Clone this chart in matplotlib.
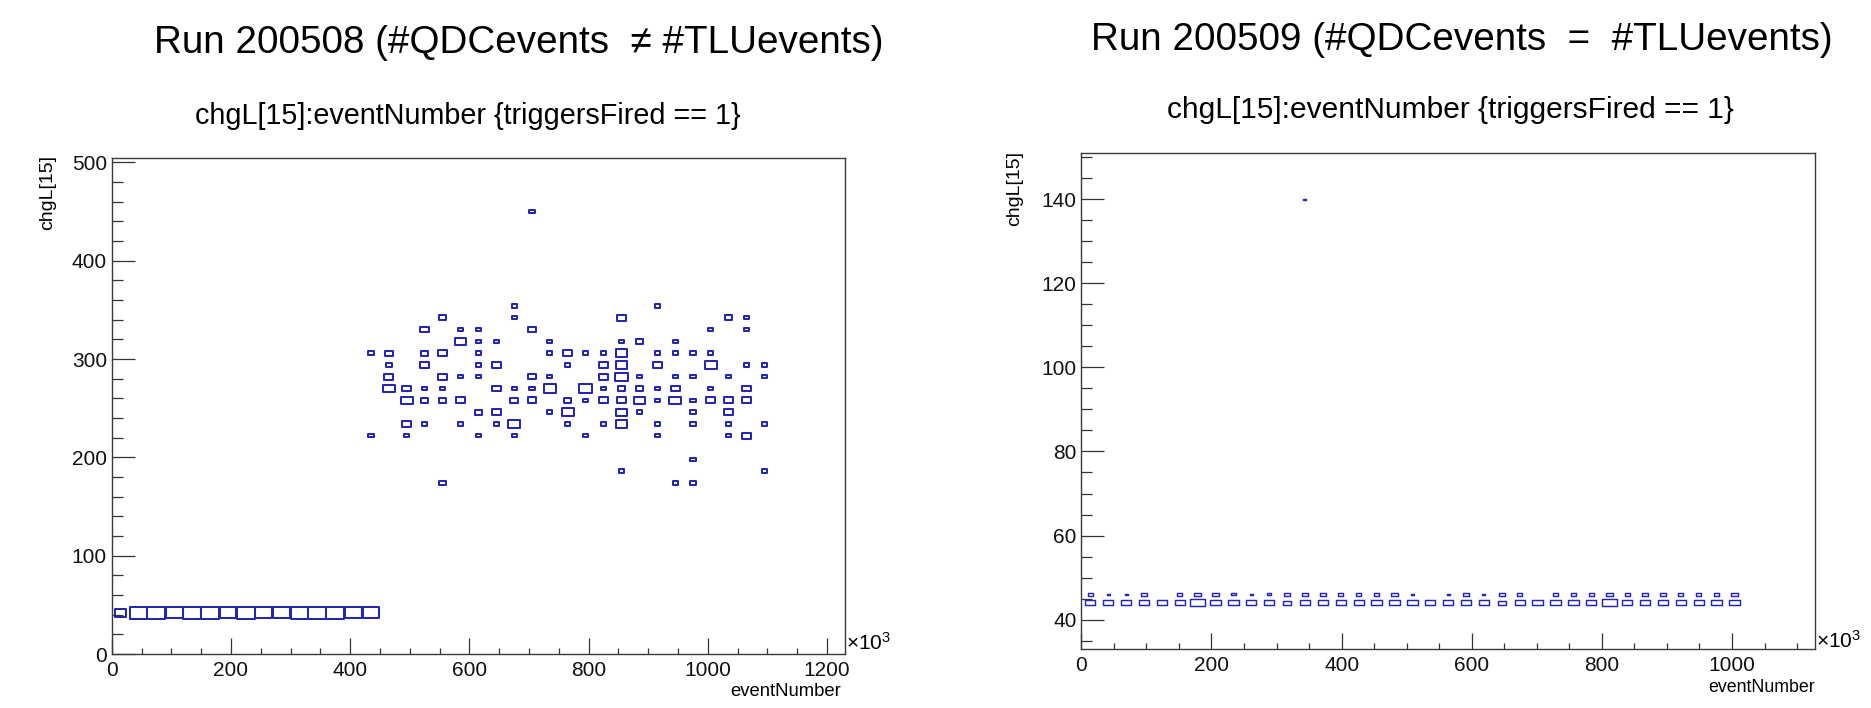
import numpy as np
import matplotlib
matplotlib.use("Agg")
import matplotlib.pyplot as plt
from matplotlib.patches import Rectangle
from matplotlib.collections import PatchCollection

plt.rcParams['font.family'] = ['Liberation Sans', 'DejaVu Sans']
plt.rcParams['mathtext.fontset'] = 'custom'
plt.rcParams['mathtext.rm'] = 'Liberation Sans'

# ---------------- data: Run 200508 (left) ----------------
# bin centres of eventNumber (x10^3), chgL[15] and entries per cell
left_event = [15, 45, 75, 105, 135, 165, 195, 225, 255, 285, 315, 345, 375, 405, 435,
              705,
              675, 915,
              555, 675, 855, 1035, 1065,
              525, 585, 615, 705, 1005, 1065,
              585, 615, 645, 735, 855, 885, 945,
              435, 465, 525, 555, 615, 735, 765, 795, 825, 855, 915, 945, 975, 1005,
              465, 525, 615, 645, 765, 825, 855, 915, 1005, 1065, 1095,
              465, 555, 585, 615, 705, 735, 825, 855, 885, 945, 975, 1035, 1095,
              465, 495, 525, 555, 645, 675, 705, 735, 795, 825, 855, 885, 915, 945, 1005, 1065,
              495, 525, 555, 585, 675, 705, 765, 795, 825, 855, 885, 915, 945, 975, 1005, 1035, 1065,
              615, 645, 735, 765, 855, 885, 975, 1035,
              495, 525, 585, 645, 675, 765, 825, 855, 915, 975, 1035, 1095,
              435, 495, 615, 675, 795, 915, 1035, 1065,
              975,
              855, 1095,
              555, 945, 975]
left_chg = [42] * 15 + \
           [450] + \
           [354] * 2 + \
           [342] * 5 + \
           [330] * 6 + \
           [318] * 7 + \
           [306] * 14 + \
           [294] * 11 + \
           [282] * 13 + \
           [270] * 16 + \
           [258] * 17 + \
           [246] * 8 + \
           [234] * 12 + \
           [222] * 8 + \
           [198] + \
           [186] * 2 + \
           [174] * 3
left_count = [5, 12, 12, 11, 12, 12, 10, 12, 11, 11, 12, 12, 12, 11, 10,
              1,
              1, 1,
              2, 1, 3, 2, 1,
              3, 1, 1, 2, 1, 1,
              5, 1, 1, 1, 1, 2, 1,
              1, 2, 2, 3, 1, 1, 3, 1, 1, 5, 1, 1, 1, 1,
              1, 3, 1, 3, 1, 3, 5, 3, 5, 1, 1,
              3, 3, 1, 1, 2, 1, 3, 6, 1, 1, 1, 1, 1,
              5, 3, 1, 1, 3, 1, 1, 6, 6, 1, 2, 2, 1, 3, 1, 3,
              5, 2, 2, 3, 2, 3, 2, 1, 3, 3, 5, 1, 5, 1, 3, 3, 3,
              2, 3, 1, 5, 4, 1, 1, 3,
              3, 1, 1, 1, 5, 1, 1, 5, 1, 1, 1, 1,
              1, 1, 1, 1, 1, 1, 1, 3,
              1,
              1, 1,
              2, 1, 1]

# ---------------- data: Run 200509 (right) ----------------
right_event = [13.75, 41.25, 68.75, 96.25, 123.75, 151.25, 178.75, 206.25, 233.75,
               261.25, 288.75, 316.25, 343.75, 371.25, 398.75, 426.25, 453.75,
               481.25, 508.75, 536.25, 563.75, 591.25, 618.75, 646.25, 673.75,
               701.25, 728.75, 756.25, 783.75, 811.25, 838.75, 866.25, 893.75,
               921.25, 948.75, 976.25, 1003.75]
right_count_44 = [12, 12, 12, 12, 12, 12, 24, 12, 12, 12, 12, 7, 12, 12, 12, 12, 12,
                  12, 12, 12, 12, 12, 12, 8, 12, 12, 12, 12, 12, 24, 12, 12, 12,
                  12, 12, 12, 12]
right_count_46 = [3, 1, 1, 5, 0, 3, 5, 5, 2, 1, 2, 5, 3, 5, 3, 3, 3,
                  5, 1, 0, 1, 3, 1, 5, 3, 0, 3, 3, 3, 5, 3, 3, 5,
                  3, 3, 3, 5]
right_outlier_event = [343.75]
right_outlier_chg = [140]
right_outlier_count = [1]

W, H = 1871, 708
fig = plt.figure(figsize=(W / 100, H / 100), dpi=100)
fig.patch.set_facecolor('white')

def ax_at(x0, y0, x1, y1):
    return fig.add_axes([x0 / W, 1 - y1 / H, (x1 - x0) / W, (y1 - y0) / H])

axL = ax_at(111.7, 157.9, 845.0, 654.1)
axR = ax_at(1081.3, 153.1, 1815.0, 649.0)

BOX = '#2626b4'

def draw_boxes(ax, xs, ys, ns, bw, bh, zmax, lw):
    patches = []
    for x, y, n in zip(xs, ys, ns):
        if n <= 0:
            continue
        r = np.sqrt(n / zmax)
        w, h = bw * r, bh * r
        patches.append(Rectangle((x - w / 2, y - h / 2), w, h))
    pc = PatchCollection(patches, facecolor='none', edgecolor=BOX, linewidth=lw)
    ax.add_collection(pc)

# left: 41 x bins of 30 on [0,1230], 42 y bins of 12 on [0,504]
draw_boxes(axL, left_event, left_chg, left_count, 30.0, 12.0, max(left_count), 1.45)
axL.set_xlim(0, 1230)
axL.set_ylim(0, 504.5)

# right: 41 x bins of 27.5 on [0,1127.5], 59 y bins of 2 on [33,151]
rx = right_event + right_event + right_outlier_event
ry = [44] * len(right_event) + [46] * len(right_event) + right_outlier_chg
rn = right_count_44 + right_count_46 + right_outlier_count
draw_boxes(axR, rx, ry, rn, 27.5, 2.0, 36, 1.05)
axR.set_xlim(0, 1127.5)
axR.set_ylim(33, 151)

def style(ax, xmaj, xmin, ymaj, ymin):
    ax.set_xticks(xmaj)
    ax.set_xticks(xmin, minor=True)
    ax.set_yticks(ymaj)
    ax.set_yticks(ymin, minor=True)
    ax.tick_params(axis='both', which='both', direction='in', colors='#333333',
                   width=0.9, labelcolor='#111111', labelsize=15,
                   top=False, right=False)
    ax.tick_params(axis='x', which='major', length=11.2, pad=5.0)
    ax.tick_params(axis='x', which='minor', length=4.5)
    ax.tick_params(axis='y', which='major', length=16.3, pad=3.4)
    ax.tick_params(axis='y', which='minor', length=7.9)
    for s in ax.spines.values():
        s.set_color('#3a3a3a')
        s.set_linewidth(1.0)

style(axL, np.arange(0, 1201, 200), np.arange(0, 1231, 50),
      np.arange(0, 501, 100), np.arange(0, 505, 20))
style(axR, np.arange(0, 1001, 200), np.arange(0, 1127, 50),
      np.arange(40, 141, 20), np.arange(35, 151, 5))

def ftxt(x, y, s, **kw):
    return fig.text(x / W, 1 - y / H, s, **kw)

renderer = fig.canvas.get_renderer()

def fit(x, y, s, target_w, **kw):
    t = ftxt(x, y, s, fontsize=20, **kw)
    w = t.get_window_extent(renderer).width
    t.set_fontsize(20 * target_w / w)
    return t

fit(519, 43, 'Run 200508 (#QDCevents  \u2260 #TLUevents)', 728, ha='center', va='center', color='black')
fit(1462, 40, 'Run 200509 (#QDCevents  =  #TLUevents)', 740, ha='center', va='center', color='black')
fit(468, 116, 'chgL[15]:eventNumber {triggersFired == 1}', 543, ha='center', va='center', color='black')
fit(1450, 110, 'chgL[15]:eventNumber {triggersFired == 1}', 566, ha='center', va='center', color='black')

for (x, y) in [(47.7, 155), (1015, 151)]:
    ftxt(x, y, 'chgL[15]', rotation=90, ha='center', va='top', fontsize=14)
ftxt(841, 691, 'eventNumber', ha='right', va='center', fontsize=13.3)
ftxt(1815, 688, 'eventNumber', ha='right', va='center', fontsize=12.8)
for (x, y) in [(846, 643), (1816, 641)]:
    ftxt(x, y, r'$\mathregular{\times10^{3}}$', ha='left', va='center', fontsize=15)

fig.savefig('out.png', dpi=100, facecolor='white')
